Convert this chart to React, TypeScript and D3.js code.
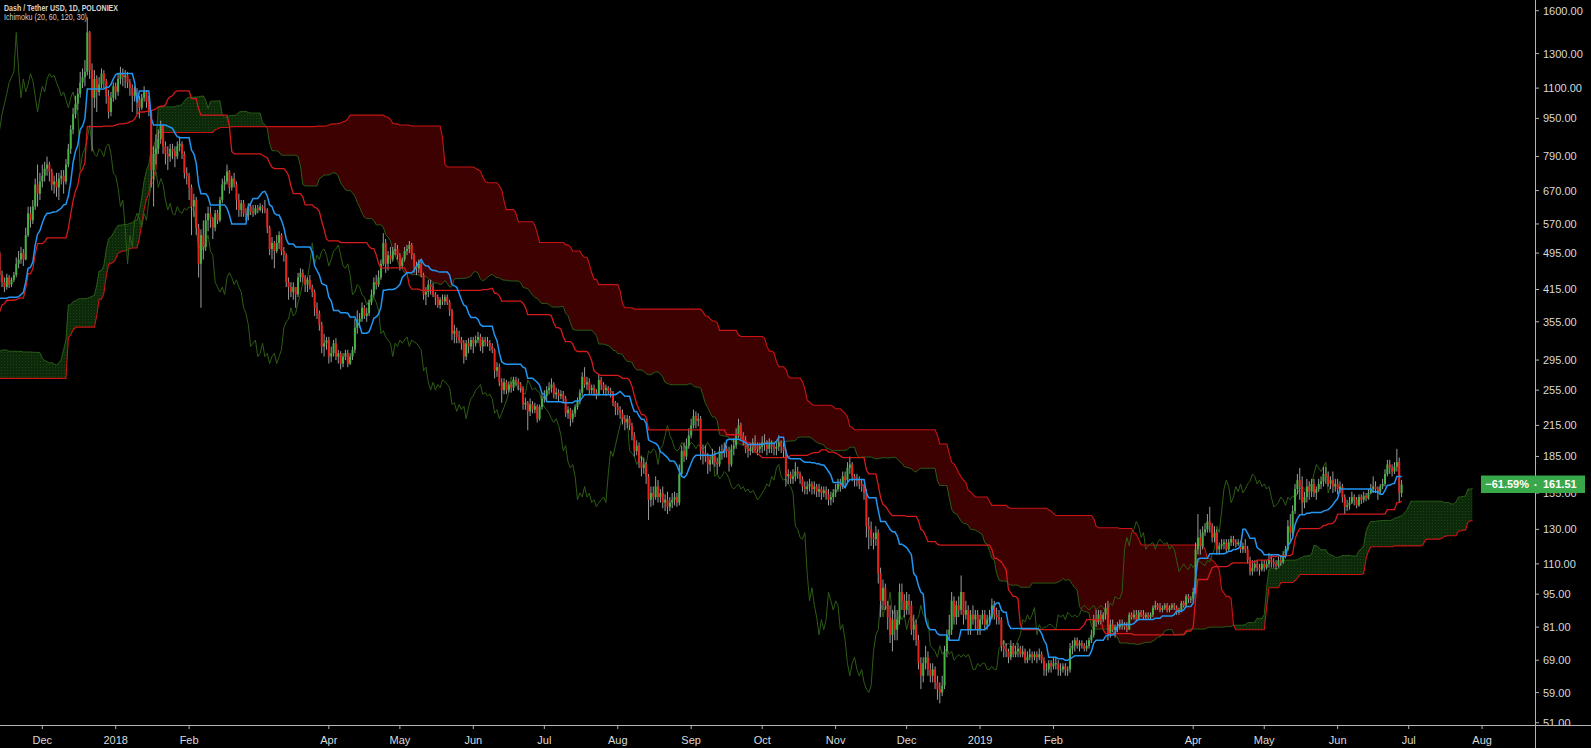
import React from "react";
import * as d3 from "d3";

// ---- Daily candles: [close, high, low] per day, one array per month (open = previous close)
const m1706 = [[165,172,155],[170,175,162],[168,174,163],[172,176,165],[180,184,170],[190,195,178],[185,193,180],[182,188,176],[188,192,180],[195,200,186],
[205,212,192],[190,208,178],[195,200,185],[185,198,180],[170,188,160],[178,182,165],[182,186,174],[176,185,172],[180,184,172],[185,190,178],
[178,188,174],[176,182,170],[182,186,174],[175,184,170],[170,178,164],[160,172,152],[168,172,155],[172,176,163],[168,175,164],[170,174,164]];
const m1707 = [[165,172,160],[172,175,163],[180,184,170],[182,188,176],[186,190,178],[184,190,180],[176,186,172],[178,182,172],[172,180,168],[162,174,158],
[160,166,152],[170,174,156],[165,172,160],[155,168,150],[145,158,140],[148,152,138],[165,170,146],[180,186,162],[178,186,172],[188,194,175],
[182,190,176],[186,190,178],[182,188,178],[184,188,178],[176,186,172],[178,182,172],[184,188,175],[182,190,178],[176,184,174],[178,182,172],
[185,188,175]];
const m1708 = [[182,190,176],[186,190,178],[190,194,182],[196,200,188],[205,210,192],[210,218,200],[215,220,205],[222,230,212],[218,228,210],[225,230,215],
[235,240,222],[232,242,225],[240,248,228],[265,270,238],[275,290,255],[285,292,268],[300,310,282],[290,305,278],[305,312,285],[315,325,300],
[330,340,310],[325,336,305],[350,358,322],[355,365,340],[345,360,335],[340,352,332],[352,358,338],[345,356,336],[360,365,340],[370,378,355],
[385,392,365]];
const m1709 = [[395,402,380],[360,400,345],[352,368,335],[310,355,295],[330,336,300],[345,350,322],[338,350,330],[320,342,308],[325,332,312],[318,328,300],
[312,325,305],[300,318,292],[280,305,265],[245,285,238],[265,272,225],[262,275,250],[270,276,255],[305,310,268],[290,308,282],[295,302,284],
[275,298,268],[280,288,270],[290,295,276],[285,293,280],[300,305,282],[298,306,290],[310,316,296],[305,315,298],[300,308,290],[305,310,296]];
const m1710 = [[300,308,294],[302,306,296],[298,305,292],[295,302,290],[300,304,292],[305,310,298],[302,308,298],[306,312,300],[300,310,296],[298,305,292],
[305,310,296],[310,318,300],[312,320,304],[318,322,308],[305,320,298],[300,310,295],[298,305,292],[290,300,282],[296,300,286],[292,300,288],
[298,305,290],[294,300,288],[288,298,282],[285,292,278],[290,295,282],[288,294,282],[286,292,280],[282,290,276],[290,296,280],[292,298,286],
[290,296,284]];
const m1711 = [[285,292,280],[292,296,282],[300,306,290],[305,312,298],[310,315,300],[306,314,300],[312,318,304],[325,332,308],[330,340,320],[350,370,325],
[390,400,345],[495,520,385],[445,500,430],[430,455,420],[420,440,410],[440,448,415],[425,445,418],[435,440,420],[445,452,430],[470,485,440],
[480,500,460],[495,510,470],[480,505,465],[540,560,478],[600,620,535],[580,620,560],[620,640,570],[690,710,610],[660,760,620],[700,730,640]];
const m1712 = [[720,760,680],[745,770,700],[760,790,720],[735,770,700],[690,745,670],[700,720,660],[680,730,650],[710,730,640],[720,740,690],[700,740,660],
[760,780,690],[820,840,750],[900,920,800],[970,1000,880],[1020,1060,950],[1070,1100,990],[1130,1190,1050],[1160,1210,1100],[1190,1260,1110],[1440,1550,1170],
[1200,1450,1150],[1050,1240,810],[1150,1200,1000],[1080,1170,980],[1120,1160,1060],[1180,1210,1100],[1140,1200,1100],[1060,1150,1020],[980,1090,950],[1050,1080,960],
[1110,1130,1030]];
const m1801 = [[1080,1130,1040],[1150,1180,1060],[1180,1220,1120],[1160,1210,1110],[1170,1200,1100],[1130,1190,1100],[1100,1150,1060],[1060,1120,980],[1080,1110,1030],[1040,1100,970],
[1000,1060,950],[1050,1070,990],[1080,1110,1030],[1030,1090,1000],[980,1060,960],[740,990,680],[800,830,620],[820,880,760],[860,900,800],[920,940,840],
[830,910,800],[800,850,760],[790,830,740],[820,840,770],[810,840,780],[790,830,750],[830,850,780],[840,870,810],[800,850,780],[730,810,710],
[720,750,690]];
const m1802 = [[680,730,640],[620,690,540],[640,660,590],[560,650,540],[470,570,440],[540,555,380],[510,580,480],[580,600,500],[600,620,550],[585,620,560],
[560,590,530],[600,610,550],[580,610,570],[640,650,575],[690,710,630],[700,720,670],[735,760,690],[680,740,660],[710,720,670],[690,730,680],
[640,700,610],[610,660,590],[630,640,590],[600,640,590],[595,615,580],[620,630,580],[605,630,595],[600,625,590]];
const m1803 = [[615,625,595],[610,625,600],[620,630,605],[615,625,600],[610,640,600],[560,615,545],[505,565,490],[520,535,480],[500,525,460],[520,540,495],
[540,550,505],[500,545,490],[490,510,475],[430,495,420],[420,440,395],[410,430,400],[420,430,395],[405,420,380],[440,450,400],[450,460,430],
[440,458,430],[425,445,410],[435,440,410],[420,445,415],[410,425,400],[380,415,365],[370,390,360],[350,375,340],[315,355,305],[320,335,300],
[325,330,310]];
const m1804 = [[300,330,290],[305,315,292],[320,325,300],[300,328,295],[305,310,290],[290,308,282],[300,305,285],[305,310,295],[290,310,285],[300,305,288],
[310,315,295],[345,360,305],[355,375,335],[360,370,345],[380,390,355],[365,385,360],[370,380,355],[390,395,365],[405,415,385],[430,440,400],
[425,445,415],[440,455,420],[470,480,435],[520,545,465],[470,530,450],[490,500,455],[480,510,470],[500,510,475],[505,520,490],[490,515,480]];
const m1805 = [[465,495,455],[480,485,460],[500,510,475],[505,515,490],[515,525,495],[490,520,480],[465,495,450],[460,475,445],[470,480,450],[445,475,440],
[405,450,395],[410,420,385],[425,435,400],[420,435,405],[405,428,400],[400,410,385],[385,405,380],[395,400,378],[392,405,385],[400,405,385],
[390,405,385],[375,395,365],[335,378,325],[340,350,320],[330,345,320],[325,340,320],[320,330,310],[300,325,290],[320,325,295],[315,328,305],
[325,330,310]];
const m1806 = [[320,330,305],[325,332,315],[330,338,320],[315,335,308],[325,330,305],[322,330,315],[320,330,315],[315,325,308],[310,320,305],[280,312,270],
[285,292,272],[265,290,260],[255,270,240],[265,270,250],[255,268,250],[262,266,252],[258,266,252],[268,272,254],[266,272,260],[262,270,255],
[258,265,252],[238,260,232],[240,246,232],[230,242,210],[238,245,225],[232,242,228],[236,240,228],[222,238,218],[235,238,220],[245,250,232]];
const m1807 = [[248,255,240],[255,260,242],[258,265,250],[262,270,252],[250,265,245],[252,258,244],[248,256,242],[250,255,244],[245,254,240],[228,248,224],
[232,236,222],[222,234,214],[228,232,218],[235,238,224],[242,246,232],[252,256,238],[272,278,248],[262,285,258],[265,272,255],[255,270,250],
[258,262,250],[252,262,248],[250,256,244],[268,275,248],[262,272,255],[255,265,250],[258,262,248],[254,260,250],[252,258,246],[240,254,236],
[235,242,226]];
const m1808 = [[232,240,226],[228,236,222],[222,232,216],[218,226,210],[222,226,212],[215,225,210],[205,218,200],[190,208,185],[195,200,186],[180,198,175],
[175,185,168],[178,184,170],[168,180,162],[150,170,136],[155,160,145],[152,160,146],[160,168,150],[152,165,148],[155,158,148],[148,160,144],
[150,154,142],[145,156,140],[148,152,142],[150,155,144],[152,156,146],[148,155,145],[170,178,146],[190,195,168],[185,198,180],[195,202,182],
[205,212,192]];
const m1809 = [[215,222,202],[225,232,212],[220,230,212],[222,228,214],[190,225,182],[188,196,178],[185,195,180],[178,188,170],[182,186,172],[186,192,178],
[180,190,176],[178,184,170],[190,194,176],[188,196,182],[192,198,184],[190,195,184],[178,194,172],[192,196,176],[195,202,186],[205,212,192],
[215,222,202],[205,218,200],[200,208,195],[192,204,188],[190,196,184],[192,198,186],[198,202,188],[195,205,190],[192,198,186],[194,198,188]];
const m1810 = [[198,204,188],[196,206,190],[192,200,186],[196,202,188],[194,200,188],[192,198,186],[194,198,186],[198,205,190],[194,200,188],[190,198,184],
[168,192,160],[170,174,162],[166,172,162],[168,174,162],[172,180,164],[170,176,166],[166,172,162],[160,168,156],[158,164,154],[160,164,154],
[162,166,156],[158,164,154],[160,164,154],[156,162,152],[158,162,152],[155,160,150],[157,160,152],[154,160,150],[150,158,146],[152,156,146],
[155,158,148]];
const m1811 = [[158,162,152],[162,166,156],[160,166,156],[168,172,158],[165,172,160],[175,180,162],[178,185,170],[168,180,164],[165,170,160],[166,170,160],
[162,168,158],[160,166,156],[155,162,150],[132,158,125],[130,138,118],[125,135,120],[124,128,118],[128,132,120],[105,130,100],[92,108,85],
[98,102,88],[90,100,88],[85,92,80],[78,90,75],[84,88,72],[80,90,76],[84,88,76],[96,100,82],[92,100,88],[88,95,85]];
const m1812 = [[92,96,86],[90,95,86],[80,92,78],[82,86,76],[76,84,74],[68,78,66],[64,70,60],[68,70,62],[70,74,66],[66,72,64],
[64,68,62],[66,68,62],[62,67,60],[60,64,57],[59,62,56],[61,64,58],[72,74,60],[78,80,70],[80,86,76],[92,96,78],
[85,94,82],[90,92,82],[88,94,85],[96,104,86],[86,96,82],[88,92,84],[80,90,78],[86,88,78],[84,90,82],[86,88,80],
[80,88,78]];
const m1901 = [[84,86,78],[86,88,82],[82,88,80],[84,86,80],[85,88,82],[90,93,84],[86,92,84],[85,89,82],[84,88,82],[74,85,72],
[73,76,70],[72,75,70],[70,73,68],[74,76,69],[71,75,70],[72,74,70],[73,75,70],[71,74,70],[72,74,70],[69,73,68],
[70,72,68],[71,73,69],[70,72,68],[71,72,69],[70,72,68],[71,73,69],[69,72,68],[66,70,64],[66,68,64],[68,69,65],
[67,69,65]];
const m1902 = [[68,70,66],[68,70,66],[66,69,64],[66,68,64],[67,68,65],[66,68,64],[66,67,64],[73,75,65],[74,76,71],[76,77,72],
[74,77,73],[75,76,72],[74,76,73],[73,75,72],[74,76,72],[76,77,73],[78,80,75],[84,86,77],[83,88,81],[86,88,82],
[84,88,82],[86,87,83],[89,91,84],[78,92,76],[82,84,77],[80,84,79],[81,82,77],[81,83,79]];
const m1903 = [[82,84,80],[82,84,80],[81,83,80],[80,83,79],[86,87,80],[85,87,84],[86,88,84],[84,88,83],[87,88,84],[86,88,85],
[85,88,84],[86,87,84],[85,87,84],[86,87,84],[89,90,85],[90,92,88],[89,91,88],[88,91,87],[89,90,87],[90,91,88],
[88,91,87],[89,90,87],[90,91,88],[89,91,88],[87,90,86],[88,89,86],[91,92,87],[90,92,89],[94,95,89],[93,95,91],
[93,94,91]];
const m1904 = [[96,98,92],[118,122,95],[125,140,115],[120,130,115],[128,132,118],[130,134,126],[135,140,128],[132,145,128],[125,134,122],[128,132,122],
[118,130,115],[120,122,115],[121,124,118],[122,124,118],[118,124,116],[122,124,117],[124,126,120],[122,126,120],[121,124,119],[122,124,120],
[118,123,116],[120,122,116],[118,124,116],[112,120,110],[106,114,104],[108,112,104],[110,112,106],[108,112,106],[107,110,104],[110,112,106]];
const m1905 = [[108,112,106],[110,112,107],[112,116,108],[111,115,108],[110,113,108],[109,112,107],[112,114,108],[111,114,109],[115,117,110],[118,120,113],
[132,136,117],[128,140,122],[142,146,126],[158,162,140],[165,170,154],[160,175,150],[148,168,140],[152,156,144],[160,166,148],[156,164,150],
[162,166,152],[155,166,152],[158,160,150],[162,166,156],[164,168,158],[170,176,160],[168,176,162],[162,172,160],[165,168,158],[160,172,155],
[162,166,156]];
const m1906 = [[158,166,154],[160,164,155],[152,162,148],[145,154,140],[146,150,142],[148,152,143],[152,156,147],[150,154,146],[146,152,144],[152,154,145],
[150,154,147],[153,156,148],[151,155,149],[155,158,150],[158,162,154],[160,168,155],[158,164,155],[156,160,150],[160,162,154],[162,166,158],
[170,174,160],[178,182,168],[175,182,170],[172,178,168],[176,180,170],[180,192,172],[155,184,148],[161.51,165,152]];

// [year, monthIndex(0-based), days]
const monthSeries: [number, number, number[][]][] = [
  [2017, 5, m1706], [2017, 6, m1707], [2017, 7, m1708], [2017, 8, m1709], [2017, 9, m1710], [2017, 10, m1711], [2017, 11, m1712],
  [2018, 0, m1801], [2018, 1, m1802], [2018, 2, m1803], [2018, 3, m1804], [2018, 4, m1805], [2018, 5, m1806],
  [2018, 6, m1807], [2018, 7, m1808], [2018, 8, m1809], [2018, 9, m1810], [2018, 10, m1811], [2018, 11, m1812],
  [2019, 0, m1901], [2019, 1, m1902], [2019, 2, m1903], [2019, 3, m1904], [2019, 4, m1905], [2019, 5, m1906],
];

const priceTicks = [1600, 1300, 1100, 950, 790, 670, 570, 495, 415, 355, 295, 255, 215, 185, 155, 130, 110, 95, 81, 69, 59, 51];
const timeTicks: [string, string][] = [
  ["2017-12-01", "Dec"], ["2018-01-01", "2018"], ["2018-02-01", "Feb"], ["2018-04-01", "Apr"], ["2018-05-01", "May"],
  ["2018-06-01", "Jun"], ["2018-07-01", "Jul"], ["2018-08-01", "Aug"], ["2018-09-01", "Sep"], ["2018-10-01", "Oct"],
  ["2018-11-01", "Nov"], ["2018-12-01", "Dec"], ["2019-01-01", "2019"], ["2019-02-01", "Feb"], ["2019-04-01", "Apr"],
  ["2019-05-01", "May"], ["2019-06-01", "Jun"], ["2019-07-01", "Jul"], ["2019-08-01", "Aug"],
];

const TITLE = "Dash / Tether USD, 1D, POLONIEX";
const SUBTITLE = "Ichimoku (20, 60, 120, 30)";
const LAST_PRICE = 161.51;
const LAST_CHANGE = "\u221261.59%";
const CONV = 20, BASE = 60, SPANB = 120, DISP = 30;

const W = 1591, H = 748;
const AX = 1535, AY = 725;
const DAY = 86400000;

type Bar = { t: Date; o: number; h: number; l: number; c: number };
type Pt = { t: Date; v: number };

function buildBars(): Bar[] {
  const bars: Bar[] = [];
  let prev: number | null = null;
  for (const [yr, mo, arr] of monthSeries) {
    arr.forEach(([c, h, l], i) => {
      const o = prev == null ? c : prev;
      bars.push({ t: new Date(Date.UTC(yr, mo, i + 1)), o, h: Math.max(h, o, c), l: Math.min(l, o, c), c });
      prev = c;
    });
  }
  return bars;
}

function donchian(bars: Bar[], i: number, n: number): number {
  if (i < n - 1) return NaN;
  let hh = -Infinity, ll = Infinity;
  for (let k = i - n + 1; k <= i; k++) {
    if (bars[k].h > hh) hh = bars[k].h;
    if (bars[k].l < ll) ll = bars[k].l;
  }
  return (hh + ll) / 2;
}

export default function App() {
  const bars = buildBars();
  const x = d3.scaleUtc()
    .domain([new Date(Date.UTC(2017, 11, 1)), new Date(Date.UTC(2019, 7, 1))])
    .range([42.3, 1482.1]);
  const y = d3.scaleLog().domain([51, 1600]).range([722.7, 10.7]);

  const shift = (t: Date, n: number) => new Date(t.getTime() + n * DAY);
  const tenkan: Pt[] = bars.map((b, i) => ({ t: b.t, v: donchian(bars, i, CONV) }));
  const kijun: Pt[] = bars.map((b, i) => ({ t: b.t, v: donchian(bars, i, BASE) }));
  const spanA: Pt[] = bars.map((b, i) => ({ t: shift(b.t, DISP), v: (tenkan[i].v + kijun[i].v) / 2 }));
  const spanB: Pt[] = bars.map((b, i) => ({ t: shift(b.t, DISP), v: donchian(bars, i, SPANB) }));
  const lagging: Pt[] = bars.map((b) => ({ t: shift(b.t, -DISP), v: b.c }));

  const line = d3.line<Pt>().defined((d) => isFinite(d.v)).x((d) => x(d.t)).y((d) => y(d.v));

  const cloud = spanA
    .map((a, i) => ({ t: a.t, a: a.v, b: spanB[i].v }))
    .filter((d) => isFinite(d.a) && isFinite(d.b));
  const TOP = -2000, BOT = 3000;
  const aboveA = d3.area<any>().x((d) => x(d.t)).y0(TOP).y1((d) => y(d.a))(cloud) || "";
  const belowA = d3.area<any>().x((d) => x(d.t)).y0(BOT).y1((d) => y(d.a))(cloud) || "";
  const bFromBottom = d3.area<any>().x((d) => x(d.t)).y0(BOT).y1((d) => y(d.b))(cloud) || "";
  const bFromTop = d3.area<any>().x((d) => x(d.t)).y0(TOP).y1((d) => y(d.b))(cloud) || "";

  const visible = bars.filter((b) => x(b.t) > -5 && x(b.t) < AX + 5);
  const font = "'Liberation Sans', Arial, sans-serif";
  const lastY = y(LAST_PRICE);

  return (
    <svg width={W} height={H} style={{ position: "fixed", left: 0, top: 0, display: "block" }}>
      <defs>
        <clipPath id="plot"><rect x={0} y={0} width={AX} height={AY} /></clipPath>
        <clipPath id="yaxis"><rect x={AX} y={0} width={W - AX} height={AY} /></clipPath>
        <clipPath id="aboveA"><path d={aboveA} /></clipPath>
        <clipPath id="belowA"><path d={belowA} /></clipPath>
        <pattern id="dots" width={3} height={3} patternUnits="userSpaceOnUse">
          <rect width={3} height={3} fill="#0c2909" />
          <rect x={1} y={1} width={1} height={1} fill="#1a4214" />
        </pattern>
      </defs>
      <rect x={0} y={0} width={W} height={H} fill="#000" />

      <g clipPath="url(#plot)">
        {/* cloud */}
        <path d={bFromBottom} fill="#3d0101" clipPath="url(#aboveA)" />
        <path d={bFromTop} fill="url(#dots)" clipPath="url(#belowA)" />
        <path d={line(spanA) || ""} fill="none" stroke="#2a5e18" strokeWidth={1} />
        <path d={line(spanB) || ""} fill="none" stroke="#c81414" strokeWidth={1.1} />
        {/* lagging span */}
        <path d={line(lagging) || ""} fill="none" stroke="#2d5c14" strokeWidth={1} />

        {/* candles */}
        {visible.map((b, i) => {
          const cx = x(b.t);
          const up = b.c >= b.o;
          const y1 = y(Math.max(b.o, b.c));
          const y2 = y(Math.min(b.o, b.c));
          return (
            <g key={i}>
              <line x1={cx} x2={cx} y1={y(b.h)} y2={y(b.l)} stroke="#9c9c9c" strokeWidth={1} />
              <rect x={cx - 1} y={y1} width={2} height={Math.max(1, y2 - y1)} fill={up ? "#44b244" : "#e8221d"} />
            </g>
          );
        })}

        {/* conversion & base lines */}
        <path d={line(kijun) || ""} fill="none" stroke="#d41a1a" strokeWidth={1.3} />
        <path d={line(tenkan) || ""} fill="none" stroke="#2196f3" strokeWidth={1.5} />
      </g>

      {/* axes */}
      <line x1={AX + 0.5} x2={AX + 0.5} y1={0} y2={H} stroke="#b4b4b4" strokeWidth={1} />
      <line x1={0} x2={W} y1={AY + 0.5} y2={AY + 0.5} stroke="#b4b4b4" strokeWidth={1} />

      <g clipPath="url(#yaxis)">
        {priceTicks.map((p) => (
          <g key={p}>
            <line x1={AX} x2={AX + 4} y1={y(p)} y2={y(p)} stroke="#b4b4b4" />
            <text x={AX + 8} y={y(p)} dy="0.36em" fill="#dadada" fontSize={11} fontFamily={font}>
              {p.toFixed(2)}
            </text>
          </g>
        ))}
      </g>

      {timeTicks.map(([d, lab]) => {
        const tx = x(new Date(d + "T00:00:00Z"));
        return (
          <g key={d}>
            <line x1={tx} x2={tx} y1={AY} y2={AY + 4} stroke="#b4b4b4" />
            <text x={tx} y={744} textAnchor="middle" fill="#dadada" fontSize={11} fontFamily={font}>{lab}</text>
          </g>
        );
      })}

      {/* last price label */}
      <rect x={1481} y={lastY - 9} width={104} height={17.5} fill="#39a84b" />
      <text x={1529} y={lastY} dy="0.36em" textAnchor="end" fill="#fff" fontSize={11} fontWeight="bold" fontFamily={font}>{LAST_CHANGE}</text>
      <rect x={AX - 0.5} y={lastY - 0.5} width={2} height={2} fill="#e8e8e8" />
      <text x={AX + 8} y={lastY} dy="0.36em" fill="#fff" fontSize={11} fontWeight="bold" fontFamily={font}>{LAST_PRICE.toFixed(2)}</text>

      {/* titles */}
      <text x={4} y={10.5} fill="#d4d4d4" fontSize={9} fontWeight="bold" fontFamily={font} textLength={114} lengthAdjust="spacingAndGlyphs">{TITLE}</text>
      <text x={4} y={19.8} fill="#cfcfcf" fontSize={9} fontFamily={font} textLength={83} lengthAdjust="spacingAndGlyphs">{SUBTITLE}</text>
    </svg>
  );
}
